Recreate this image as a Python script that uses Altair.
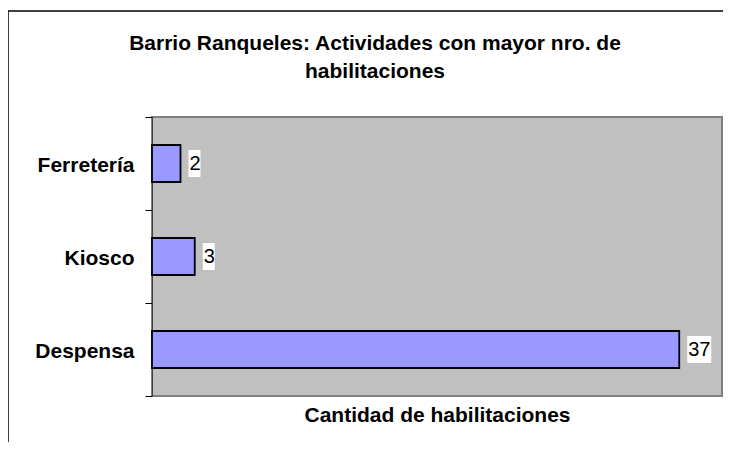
import altair as alt
import pandas as pd

categories = ["Ferretería", "Kiosco", "Despensa"]
values = [2, 3, 37]

title_lines = ["Barrio Ranqueles: Actividades con mayor nro. de", "habilitaciones"]
x_title = "Cantidad de habilitaciones"

FONT = "Liberation Sans"
X_MAX = 40
W, H = 570, 279
PX = X_MAX / W  # data units per pixel

df = pd.DataFrame({"cat": categories, "v": values})

x_scale = alt.Scale(domain=[0, X_MAX], nice=False, zero=True)
y_scale = alt.Scale(paddingInner=0, paddingOuter=0)

y_enc = alt.Y(
    "cat:N",
    sort=categories,
    scale=y_scale,
    axis=alt.Axis(
        title=None,
        labelFont=FONT,
        labelFontSize=21,
        labelFontWeight="bold",
        labelColor="black",
        labelPadding=11,
        labelOffset=2,
        tickSize=7,
        tickColor="black",
        tickWidth=1,
        tickBand="extent",
        domainColor="#404040",
        domainWidth=1,
        grid=False,
    ),
)

base = alt.Chart(df)

bars = base.mark_bar(size=37, fill="#9999FF", stroke="black", strokeWidth=1.8).encode(
    x=alt.X(
        "v:Q",
        scale=x_scale,
        axis=alt.Axis(
            labels=False,
            ticks=False,
            domain=False,
            grid=False,
            title=x_title,
            titleFont=FONT,
            titleFontSize=21,
            titleFontWeight="bold",
            titleColor="black",
            titlePadding=8,
        ),
    ),
    y=y_enc,
)

label_bg = base.transform_calculate(
    bx="datum.v + 8 * %f" % PX,
    bx2="datum.v + (8 + length(toString(datum.v)) * 12) * %f" % PX,
).mark_bar(size=27, color="white").encode(
    x=alt.X("bx:Q", scale=x_scale),
    x2="bx2:Q",
    y=alt.Y("cat:N", sort=categories),
)

labels = base.mark_text(
    align="left", baseline="middle", dx=9, font=FONT, fontSize=20, color="black"
).encode(
    x=alt.X("v:Q", scale=x_scale),
    y=alt.Y("cat:N", sort=categories),
    text="v:Q",
)

frame_df = pd.DataFrame({"a": [0]})
top_border = alt.Chart(frame_df).mark_rule(color="black", strokeWidth=1.5).encode(
    x=alt.value(-144), x2=alt.value(W + 1), y=alt.value(-106)
)
left_border = alt.Chart(frame_df).mark_rule(color="black", strokeWidth=1.5).encode(
    x=alt.value(-144), y=alt.value(-106), y2=alt.value(H + 46)
)

chart = (
    alt.layer(bars, label_bg, labels, top_border, left_border)
    .properties(
        width=W,
        height=H,
        title=alt.TitleParams(
            text=title_lines,
            font=FONT,
            fontSize=21,
            fontWeight="bold",
            color="black",
            anchor="middle",
            frame="group",
            dx=-62,
            lineHeight=28,
            offset=-72,
        ),
        autosize=alt.AutoSizeParams(type="none"),
        padding={"left": 144, "top": 109, "right": 1, "bottom": 46},
        background="white",
    )
    .configure_view(fill="#C0C0C0", stroke="#808080", strokeWidth=2)
)

chart.save("out.html", embed_options={"renderer": "svg", "actions": False})
